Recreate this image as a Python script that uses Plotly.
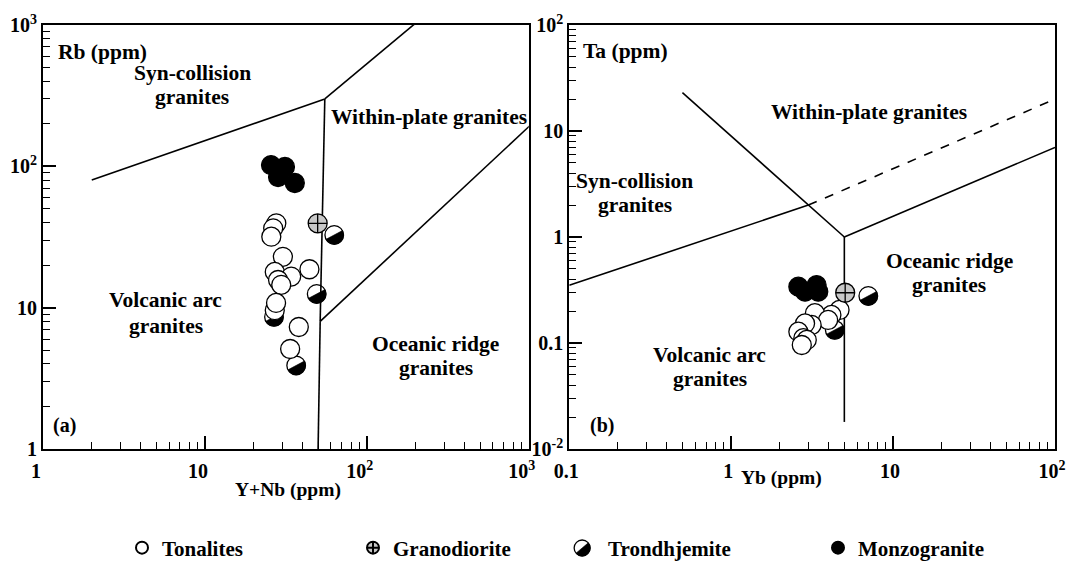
import numpy as np
import plotly.graph_objects as go

# ---------------- data ----------------
# Panel (a): Y+Nb (ppm) vs Rb (ppm)
a_ton_x = [27.6, 26.4, 25.7, 30.3, 27.0, 34.1, 28.3, 29.6, 27.0, 27.5, 44.2, 38.0, 33.6]
a_ton_y = [39.5, 36.4, 31.8, 22.9, 17.9, 16.6, 15.7, 14.5, 9.6, 10.8, 18.7, 7.3, 5.1]
a_gra_x = [49.7]
a_gra_y = [39.5]
a_tro_x = [62.9, 49.0, 26.7, 36.6]
a_tro_y = [32.7, 12.5, 8.6, 3.9]
a_mon_x = [25.6, 31.2, 28.3, 35.9]
a_mon_y = [102, 98.9, 84, 76.2]

# Panel (b): Yb (ppm) vs Ta (ppm)
b_ton_x = [4.67, 4.16, 3.29, 3.97, 3.14, 2.86, 2.60, 2.79, 2.93, 2.73]
b_ton_y = [0.205, 0.184, 0.191, 0.165, 0.148, 0.153, 0.128, 0.111, 0.107, 0.0958]
b_gra_x = [5.06]
b_gra_y = [0.298]
b_tro_x = [7.03, 4.36]
b_tro_y = [0.278, 0.133]
b_mon_x = [2.60, 3.37, 2.86, 3.45]
b_mon_y = [0.340, 0.352, 0.305, 0.305]

# Discrimination boundaries (Pearce et al., 1984)
a_bounds = [
    ([2, 55], [80, 300]),
    ([55, 400], [300, 2000]),
    ([55, 51.5], [300, 8]),
    ([51.5, 2000], [8, 400]),
    ([51.5, 50], [8, 1]),
]
b_bounds_solid = [
    ([0.5, 3, 5], [23, 2, 1]),
    ([5, 100], [1, 7]),
    ([5, 5], [1, 0.018]),
    ([0.1, 3], [0.35, 2]),
]
b_bounds_dash = [
    ([3, 100], [2, 20]),
]

a_xticks = [1, 10, 100, 1000]
a_xtext = ["1", "10", "10<sup>2</sup>", "10<sup>3</sup>"]
a_yticks = [1, 10, 100, 1000]
a_ytext = ["1", "10", "10<sup>2</sup>", "10<sup>3</sup>"]
b_xticks = [0.1, 1, 10, 100]
b_xtext = ["0.1", "1", "10", "10<sup>2</sup>"]
b_yticks = [0.01, 0.1, 1, 10, 100]
b_ytext = ["10<sup>-2</sup>", "0.1", "1", "10", "10<sup>2</sup>"]

legend_names = ["Tonalites", "Granodiorite", "Trondhjemite", "Monzogranite"]

# ---------------- styles ----------------
FONT = "Liberation Serif, Times New Roman, Times, serif"
MSIZE = 19
R = 9.3
W, H = 1070, 564
ML, MR, MT, MB = 43, 4, 25, 115
PW, PH = W - ML - MR, H - MT - MB
A_DOM = [0, 0.480]
B_DOM = [0.520, 1]

fig = go.Figure()

def add_lines(bounds, xa, ya, dash="solid"):
    for xs, ys in bounds:
        fig.add_trace(go.Scatter(x=xs, y=ys, mode="lines", xaxis=xa, yaxis=ya,
                                 line=dict(color="black", width=1.6, dash=dash),
                                 showlegend=False, hoverinfo="skip"))

add_lines(a_bounds, "x", "y")
add_lines(b_bounds_solid, "x2", "y2")
add_lines(b_bounds_dash, "x2", "y2", dash="dash")

def arc_path(r, start_deg, sweep_deg, nseg):
    """Bezier approximation of a circular arc (pixel units, y up), closed."""
    a_start = np.radians(start_deg)
    step = np.radians(sweep_deg) / nseg
    angs = [a_start + i * step for i in range(nseg + 1)]
    def p(a):
        return r * np.cos(a), r * np.sin(a)
    x0, y0 = p(angs[0])
    d = f"M {x0:.3f},{y0:.3f}"
    for a0, a1 in zip(angs[:-1], angs[1:]):
        k = 4 / 3 * np.tan((a1 - a0) / 4)
        px0, py0 = p(a0)
        px1, py1 = p(a1)
        c1 = (px0 - k * r * np.sin(a0), py0 + k * r * np.cos(a0))
        c2 = (px1 + k * r * np.sin(a1), py1 - k * r * np.cos(a1))
        d += f" C {c1[0]:.3f},{c1[1]:.3f} {c2[0]:.3f},{c2[1]:.3f} {px1:.3f},{py1:.3f}"
    return d + " Z"

def half_path(r, theta_deg=28):
    return arc_path(r, theta_deg, -180, 4)

def full_path(r):
    return arc_path(r, 0, 360, 8)

def add_tro_shape(xv, yv, xr, yr, r, layer, theta):
    common = dict(xref=xr, yref=yr, xsizemode="pixel", ysizemode="pixel",
                  xanchor=xv, yanchor=yv, layer=layer)
    fig.add_shape(type="path", path=full_path(r), fillcolor="white",
                  line=dict(color="black", width=1.3), **common)
    fig.add_shape(type="path", path=half_path(r, theta), fillcolor="black",
                  line=dict(color="black", width=0.6), **common)

for xv, yv in zip(a_tro_x, a_tro_y):
    add_tro_shape(xv, yv, "x", "y", R, "below", 28)
for xv, yv in zip(b_tro_x, b_tro_y):
    add_tro_shape(xv, yv, "x2", "y2", R, "below", 28)

LEG_KEYS = ["legend", "legend2", "legend3", "legend4"]

def add_pts(x, y, xa, ya, name, sym, fill, show, lw=1.3):
    fig.add_trace(go.Scatter(x=x, y=y, mode="markers", xaxis=xa, yaxis=ya, name=name,
                             marker=dict(symbol=sym, size=MSIZE, color=fill,
                                         line=dict(color="black", width=lw)),
                             showlegend=show, legend=LEG_KEYS[legend_names.index(name)],
                             hoverinfo="x+y"))

# legend-only trondhjemite entry (its symbol is painted with shapes)
fig.add_trace(go.Scatter(x=[None], y=[None], mode="markers", xaxis="x", yaxis="y",
                         name="Trondhjemite", legend="legend3",
                         marker=dict(symbol="circle", size=MSIZE, color="rgba(0,0,0,0)",
                                     line=dict(color="rgba(0,0,0,0)", width=0))))

add_pts(a_mon_x, a_mon_y, "x", "y", "Monzogranite", "circle", "black", True)
add_pts(a_ton_x, a_ton_y, "x", "y", "Tonalites", "circle", "white", True)
add_pts(a_gra_x, a_gra_y, "x", "y", "Granodiorite", "circle-cross", "#c8c8c8", True)
add_pts(b_mon_x, b_mon_y, "x2", "y2", "Monzogranite", "circle", "black", False)
add_pts(b_ton_x, b_ton_y, "x2", "y2", "Tonalites", "circle", "white", False)
add_pts(b_gra_x, b_gra_y, "x2", "y2", "Granodiorite", "circle-cross", "#c8c8c8", False)

def minor_vals(lo, hi):
    return [m * 10.0 ** e for e in range(lo, hi) for m in range(2, 10)]

tickfont = dict(family=FONT, size=20, color="black", weight="bold")

def axis(dom, rng, tv, tt, mv, anchor, shift=0, standoff=0):
    return dict(type="log", domain=dom, range=rng, anchor=anchor,
                tickmode="array", tickvals=tv, ticktext=tt, ticks="inside",
                ticklen=13, tickwidth=1.6, tickcolor="black", ticklabelshift=shift,
                ticklabelstandoff=standoff,
                minor=dict(tickmode="array", tickvals=mv, ticks="inside", ticklen=7,
                           tickwidth=1.4, tickcolor="black", showgrid=False),
                showline=True, mirror=True, linecolor="black", linewidth=2,
                showgrid=False, zeroline=False, tickfont=tickfont, fixedrange=True)

LEG_SYM_X = [142, 373, 588, 838]  # symbol centres, px from left
LEG_Y = 548                       # legend row centre, px from top
legfont = dict(family=FONT, size=21, color="black", weight="bold")
legends = {}
for key, sx in zip(LEG_KEYS, LEG_SYM_X):
    legends[key] = dict(orientation="h", xref="container", yref="container",
                        x=(sx - 20) / W, y=(H - LEG_Y) / H, xanchor="left", yanchor="middle",
                        font=legfont, itemsizing="constant", bgcolor="rgba(0,0,0,0)")

fig.update_layout(
    width=W, height=H,
    margin=dict(l=ML, r=MR, t=MT, b=MB),
    paper_bgcolor="white", plot_bgcolor="white",
    xaxis=axis(A_DOM, [0, 3], a_xticks, a_xtext, minor_vals(0, 3), "y", shift=-7, standoff=3),
    yaxis=axis([0, 1], [0, 3], a_yticks, a_ytext, minor_vals(0, 3), "x"),
    xaxis2=axis(B_DOM, [-1, 2], b_xticks, b_xtext, minor_vals(-1, 2), "y2", shift=-3, standoff=3),
    yaxis2=axis([0, 1], [-2, 2], b_yticks, b_ytext, minor_vals(-2, 2), "x2"),
    showlegend=True,
    **legends,
)

# Trondhjemite legend symbol (half-black circle)
add_tro_shape((LEG_SYM_X[2] - ML) / PW, (H - MB - LEG_Y) / PH, "paper", "paper", 8, "above", 40)

PANELS = {"a": ("x", "y", ML + A_DOM[0] * PW, ML + A_DOM[1] * PW),
          "b": ("x2", "y2", ML + B_DOM[0] * PW, ML + B_DOM[1] * PW)}

def ann(lines, px, py, panel, xanchor="center", size=21.5, gap=24):
    xr, yr, left, right = PANELS[panel]
    n = len(lines)
    for i, line in enumerate(lines):
        yy = py + (i - (n - 1) / 2) * gap
        fig.add_annotation(text=line, x=(px - left) / (right - left), y=(H - MB - yy) / PH,
                           xref=xr + " domain", yref=yr + " domain",
                           xanchor=xanchor, yanchor="middle", showarrow=False,
                           font=dict(family=FONT, size=size, color="black", weight="bold"))

# Panel (a) labels
ann(["Rb (ppm)"], 56, 52, "a", "left")
ann(["Syn-collision", "granites"], 194, 85, "a")
ann(["Within-plate granites"], 332, 117, "a", "left")
ann(["Volcanic arc", "granites"], 167, 313, "a", gap=26)
ann(["Oceanic ridge", "granites"], 440, 356, "a")
ann(["(a)"], 51, 425, "a", "left", size=20)
ann(["Y+Nb (ppm)"], 291, 490, "a", size=19.5)
# Panel (b) labels
ann(["Ta (ppm)"], 587, 51, "b", "left")
ann(["Within-plate granites"], 878, 112, "b")
ann(["Syn-collision", "granites"], 641, 193, "b")
ann(["Oceanic ridge", "granites"], 959, 273, "b")
ann(["Volcanic arc", "granites"], 717, 367, "b")
ann(["(b)"], 594, 425, "b", "left", size=20)
ann(["Yb (ppm)"], 790, 478, "b", size=19.5)

fig.write_html("out.html", config={"displayModeBar": False},
               post_script="document.body.style.margin='0px';document.body.style.overflow='hidden';")
